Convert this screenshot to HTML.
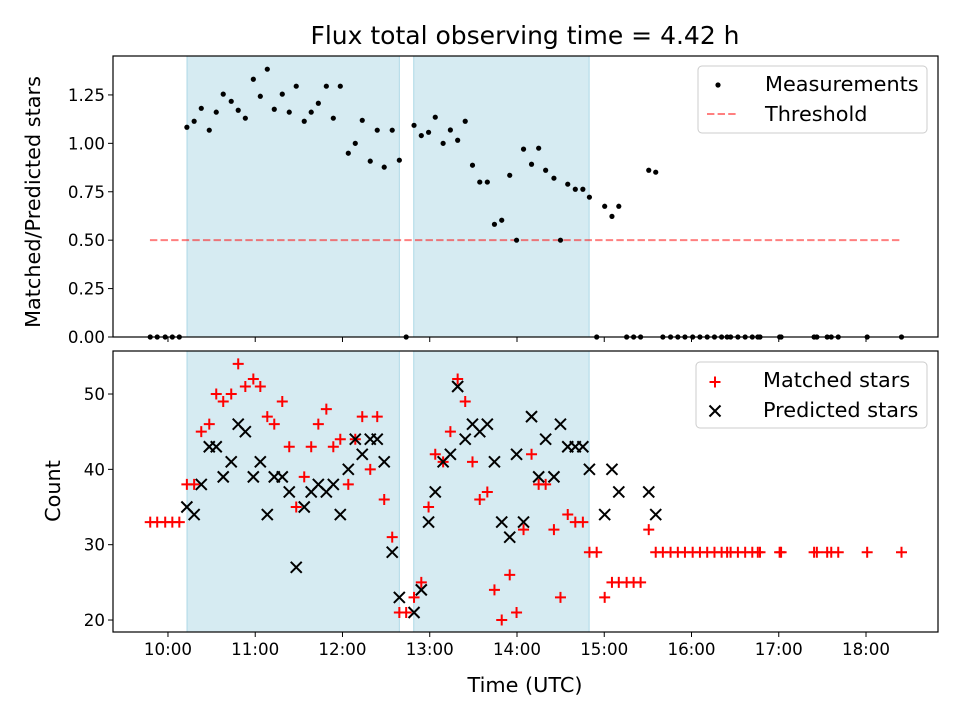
<!DOCTYPE html>
<html><head><meta charset="utf-8"><style>
body{margin:0;background:#fff;}
svg{display:block;font-family:"DejaVu Sans","Liberation Sans",sans-serif;}
</style></head>
<body>
<svg id="fig" width="960" height="720" viewBox="0 0 960 720"></svg>
<script>
// time in minutes after 10:00 UTC
const times=[-12.2,-7.4,-1.9,3.0,7.8,13.0,18.0,22.9,28.4,33.2,38.0,43.5,48.3,53.2,58.7,63.5,68.3,73.1,78.6,83.4,88.2,93.7,98.5,103.4,108.9,113.7,118.5,124.0,128.8,133.6,139.1,143.9,148.7,154.2,159.1,163.8,169.2,174.2,179.2,183.8,189.2,194.2,199.2,204.4,209.4,214.4,219.6,224.5,229.5,235.0,239.7,244.5,250.0,254.9,259.7,265.4,269.9,274.9,280.1,285.3,289.8,294.8,300.3,305.3,310.0,315.4,320.2,325.0,330.6,335.4,340.3,345.6,350.6,355.5,360.8,365.8,370.8,375.8,380.7,384.5,386.9,391.9,396.9,401.8,405.6,407.1,420.6,421.6,444.3,446.2,453.3,456.1,460.9,480.8,504.4];
const ratio=[0,0,0,0,0,1.083,1.114,1.181,1.068,1.161,1.254,1.217,1.171,1.13,1.331,1.243,1.383,1.176,1.254,1.161,1.295,1.114,1.161,1.207,1.295,1.13,1.295,0.949,1.0,1.119,0.908,1.068,0.877,1.068,0.913,0,1.093,1.04,1.057,1.135,1.0,1.069,1.016,1.114,0.887,0.80,0.80,0.582,0.603,0.835,0.5,0.97,0.892,0.975,0.861,0.82,0.5,0.789,0.763,0.763,0.722,0,0.675,0.623,0.675,0,0,0,0.861,0.851,0,0,0,0,0,0,0,0,0,0,0,0,0,0,0,0,0,0,0,0,0,0,0,0,0];
const matched=[33,33,33,33,33,38,38,45,46,50,49,50,54,51,52,51,47,46,49,43,35,39,43,46,48,43,44,38,44,47,40,47,36,31,21,21,23,25,35,42,41,45,52,49,41,36,37,24,20,26,21,32,42,38,38,32,23,34,33,33,29,29,23,25,25,25,25,25,32,29,29,29,29,29,29,29,29,29,29,29,29,29,29,29,29,29,29,29,29,29,29,29,29,29,29];
const predicted=[null,null,null,null,null,35,34,38,43,43,39,41,46,45,39,41,34,39,39,37,27,35,37,38,37,38,34,40,44,42,44,44,41,29,23,null,21,24,33,37,41,42,51,44,46,45,46,41,33,31,42,33,47,39,44,39,46,43,43,43,40,null,34,40,37,null,null,null,37,34,null,null,null,null,null,null,null,null,null,null,null,null,null,null,null,null,null,null,null,null,null,null,null,null,null];
const spans=[[13.1,159.1],[169.0,289.6]];
const thresholdValue=0.5, thresholdRange=[-12.4,504.6];
const xTicks=[0,60,120,180,240,300,360,420,480];
const xTickLabels=["10:00","11:00","12:00","13:00","14:00","15:00","16:00","17:00","18:00"];
const yTicksTop=[0,0.25,0.5,0.75,1.0,1.25];
const yTickLabelsTop=["0.00","0.25","0.50","0.75","1.00","1.25"];
const yTicksBot=[20,30,40,50];

const NS="http://www.w3.org/2000/svg";
const svg=document.getElementById('fig');
function el(tag,attrs,parent){const e=document.createElementNS(NS,tag);for(const k in attrs)e.setAttribute(k,attrs[k]);(parent||svg).appendChild(e);return e;}
const L=113,R=938;
const xMin=-37.8,xMax=529.5;
const x=v=>L+(v-xMin)/(xMax-xMin)*(R-L);
const T1=56,B1=337,T2=351,B2=632;
const yTop=v=>B1-(v-0)/(1.451-0)*(B1-T1);
const yBot=v=>B2-(v-18.41)/(55.71-18.41)*(B2-T2);
const FS=16.7, LFS=20.8;

function axes(T,B,name,yfun,yt,ytl,showX){
  const g=el('g',{});
  
  
  spans.forEach((s,i)=>{
    const r=el('rect',{x:x(s[0]),y:T,width:x(s[1])-x(s[0]),height:B-T,fill:'#add8e6','fill-opacity':0.5,stroke:'#add8e6','stroke-width':1},g);
    
    
  });
  xTicks.forEach((t,i)=>{
    el('line',{x1:x(t),x2:x(t),y1:B,y2:B+5,stroke:'#000','stroke-width':1},g);
    if(showX){const tx=el('text',{x:x(t),y:B+23,'text-anchor':'middle','font-size':FS},g);tx.textContent=xTickLabels[i];
      
      }
  });
  yt.forEach((t,i)=>{
    el('line',{x1:L-5,x2:L,y1:yfun(t),y2:yfun(t),stroke:'#000','stroke-width':1},g);
    const tx=el('text',{x:L-8,y:yfun(t)+6,'text-anchor':'end','font-size':FS},g);tx.textContent=ytl[i];
    
    
  });
  return g;
}
axes(T1,B1,'ratio-axes',yTop,yTicksTop,yTickLabelsTop,false);
axes(T2,B2,'count-axes',yBot,yTicksBot,yTicksBot.map(String),true);

const th=el('line',{x1:x(thresholdRange[0]),x2:x(thresholdRange[1]),y1:yTop(thresholdValue),y2:yTop(thresholdValue),stroke:'#ff0000','stroke-opacity':0.5,'stroke-width':2,'stroke-dasharray':'7.4,3.2'});


times.forEach((t,i)=>{
  const c=el('circle',{cx:x(t),cy:yTop(ratio[i]),r:2.6,fill:'#000'});
  
  
});
times.forEach((t,i)=>{
  const cx=x(t),cy=yBot(matched[i]),s=5.5;
  const p=el('path',{d:`M${cx-s},${cy}H${cx+s}M${cx},${cy-s}V${cy+s}`,stroke:'#ff0000','stroke-width':2});
  
  
});
times.forEach((t,i)=>{
  if(predicted[i]==null)return;
  const cx=x(t),cy=yBot(predicted[i]),s=5.5;
  const p=el('path',{d:`M${cx-s},${cy-s}L${cx+s},${cy+s}M${cx-s},${cy+s}L${cx+s},${cy-s}`,stroke:'#000','stroke-width':2});
  
  
});
[[T1,B1,'ratio-frame'],[T2,B2,'count-frame']].forEach(a=>{
  const r=el('rect',{x:L,y:a[0],width:R-L,height:a[1]-a[0],fill:'none',stroke:'#000','stroke-width':1.2});
  
  
});
function txt(s,attrs,name){const t=el('text',attrs);t.textContent=s;
  
  return t;}
txt('Flux total observing time = 4.42 h',{x:525,y:44,'text-anchor':'middle','font-size':25},'chart-title');
txt('Time (UTC)',{x:525,y:692,'text-anchor':'middle','font-size':LFS},'x-axis-title');
txt('Matched/Predicted stars',{x:0,y:0,'text-anchor':'middle','font-size':LFS,transform:'translate(40,202) rotate(-90)'},'y-axis-title-top');
txt('Count',{x:0,y:0,'text-anchor':'middle','font-size':LFS,transform:'translate(60,491) rotate(-90)'},'y-axis-title-bottom');

function legend(x0,y0,w,h,name){const r=el('rect',{x:x0,y:y0,width:w,height:h,rx:4,fill:'#fff','fill-opacity':0.8,stroke:'#ccc','stroke-width':1});
  
  }
legend(698,66,229,67,'legend-top');
const ld=el('circle',{cx:718,cy:85,r:2.6,fill:'#000'});


txt('Measurements',{x:765,y:91,'font-size':LFS},'legend-measurements');
const ll=el('line',{x1:707,x2:737,y1:114,y2:114,stroke:'#ff0000','stroke-opacity':0.5,'stroke-width':2,'stroke-dasharray':'7.4,3.2'});


txt('Threshold',{x:765,y:121,'font-size':LFS},'legend-threshold');
legend(696,362,231,66,'legend-bottom');
const lp=el('path',{d:'M709.5,382H720.5M715,376.5V387.5',stroke:'#ff0000','stroke-width':2});


txt('Matched stars',{x:763,y:387,'font-size':LFS},'legend-matched');
const lx=el('path',{d:'M709.5,405.5L720.5,416.5M709.5,416.5L720.5,405.5',stroke:'#000','stroke-width':2});


txt('Predicted stars',{x:763,y:417,'font-size':LFS},'legend-predicted');
</script>
</body></html>
